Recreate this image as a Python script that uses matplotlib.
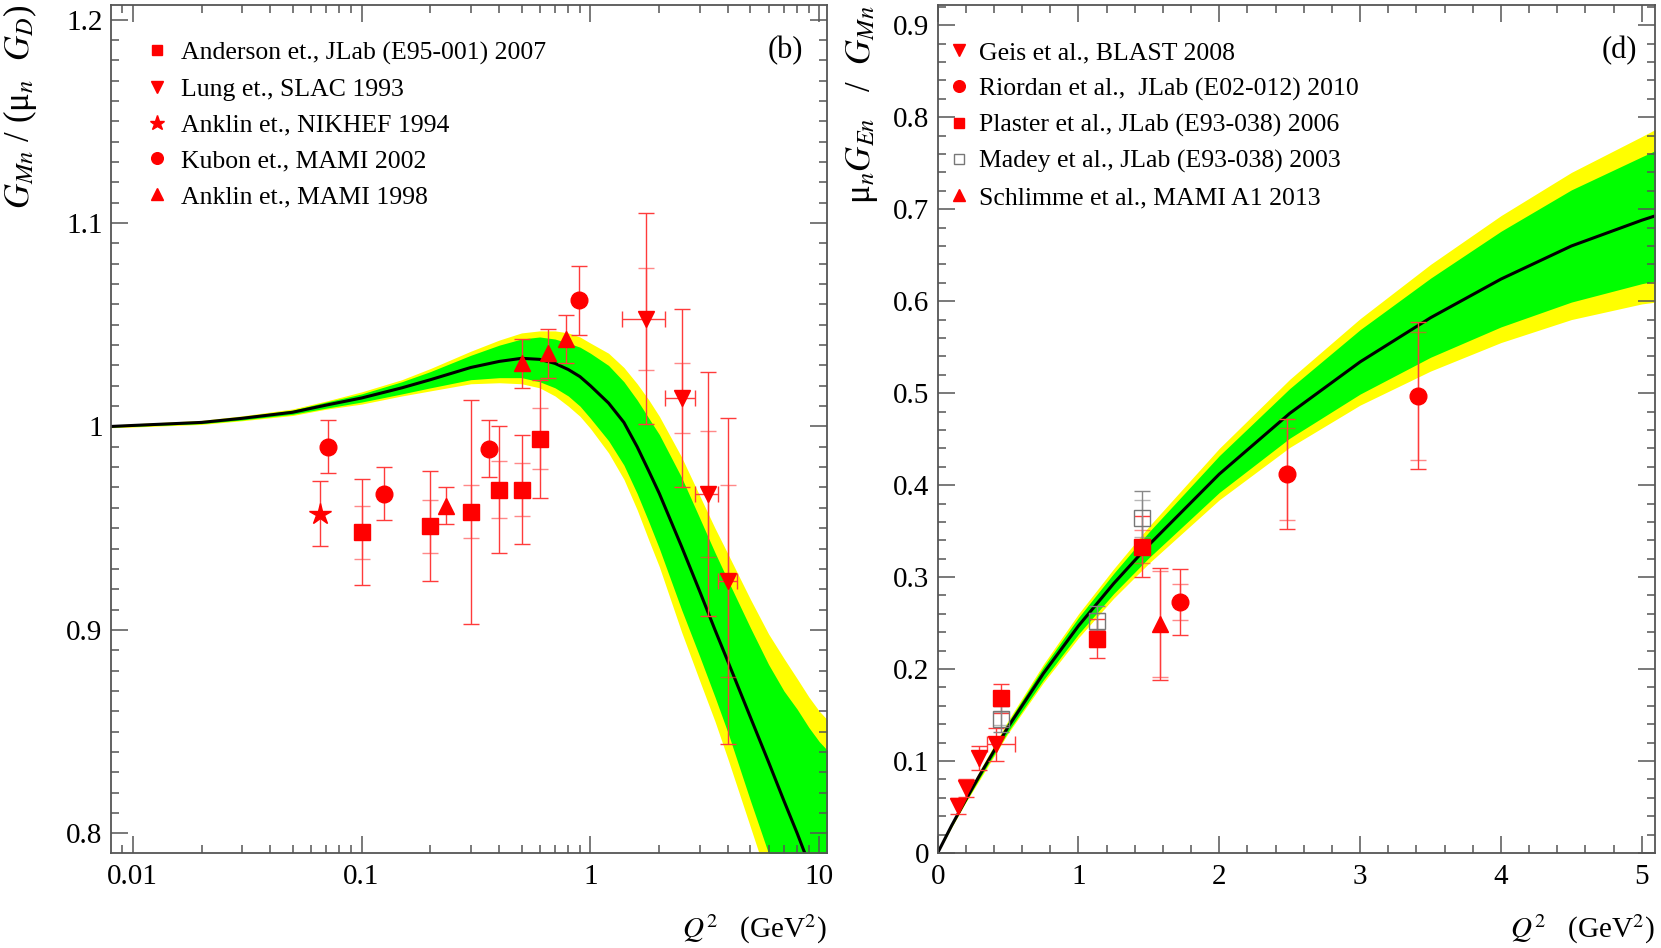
import numpy as np
import matplotlib
matplotlib.use("Agg")
import matplotlib.pyplot as plt
from matplotlib.ticker import FixedLocator, MultipleLocator, LogLocator, FuncFormatter

plt.rcParams['font.family'] = ['Liberation Serif', 'DejaVu Serif']
plt.rcParams['mathtext.fontset'] = 'stix'

# ---- panel (b): G_Mn / (mu_n G_D) ----
gm_q = [0.008, 0.01, 0.02, 0.03, 0.05, 0.07, 0.1, 0.15, 0.2, 0.3, 0.4, 0.5, 0.6, 0.7, 0.8, 0.9,
        1.0, 1.2, 1.4, 1.6, 1.8, 2.0, 2.5, 3.0, 3.5, 4.0, 5.0, 6.0, 7.0, 8.0, 9.0, 10.0, 11.0]
gm_fit = [1.000, 1.0005, 1.002, 1.004, 1.007, 1.0105, 1.014, 1.019, 1.023, 1.029, 1.032, 1.0335, 1.033, 1.031, 1.028, 1.0245,
          1.020, 1.0115, 1.002, 0.990, 0.978, 0.967, 0.941, 0.919, 0.900, 0.884, 0.857, 0.835, 0.816, 0.800, 0.785, 0.772, 0.760]
gm_green_lo = [0.9997, 1.0001, 1.0014, 1.0032, 1.006, 1.009, 1.012, 1.016, 1.019, 1.023, 1.024, 1.024, 1.022, 1.019, 1.015, 1.010,
               1.004, 0.993, 0.981, 0.967, 0.953, 0.940, 0.910, 0.887, 0.867, 0.849, 0.816, 0.790, 0.770, 0.753, 0.737, 0.724, 0.711]
gm_green_hi = [1.0003, 1.0009, 1.0026, 1.0048, 1.008, 1.012, 1.016, 1.022, 1.027, 1.035, 1.040, 1.043, 1.044, 1.043, 1.041, 1.039,
               1.036, 1.030, 1.022, 1.013, 1.004, 0.996, 0.975, 0.955, 0.938, 0.924, 0.901, 0.883, 0.870, 0.861, 0.852, 0.845, 0.840]
gm_yel_lo = [0.9994, 0.9997, 1.0010, 1.0028, 1.0054, 1.0085, 1.011, 1.015, 1.0175, 1.021, 1.0215, 1.021, 1.019, 1.015, 1.010, 1.005,
             0.999, 0.987, 0.974, 0.959, 0.944, 0.931, 0.899, 0.875, 0.855, 0.836, 0.803, 0.776, 0.755, 0.737, 0.720, 0.705, 0.691]
gm_yel_hi = [1.0006, 1.0013, 1.0030, 1.0052, 1.0086, 1.0125, 1.017, 1.023, 1.0285, 1.037, 1.0425, 1.046, 1.047, 1.047, 1.046, 1.044,
             1.041, 1.036, 1.029, 1.021, 1.013, 1.005, 0.985, 0.966, 0.950, 0.937, 0.915, 0.898, 0.886, 0.876, 0.867, 0.860, 0.855]

anderson_q = [0.1, 0.2, 0.3, 0.4, 0.5, 0.6]
anderson_v = [0.948, 0.951, 0.958, 0.969, 0.969, 0.994]
anderson_stat = [0.013, 0.013, 0.013, 0.014, 0.013, 0.015]
anderson_tot = [0.026, 0.027, 0.055, 0.031, 0.027, 0.029]

lung_q = [1.75, 2.5, 3.25, 4.0]
lung_v = [1.053, 1.014, 0.967, 0.924]
lung_stat = [0.025, 0.017, 0.031, 0.047]
lung_tot = [0.052, 0.044, 0.060, 0.080]
lung_qerr = [0.375, 0.375, 0.375, 0.375]

nikhef_q = [0.066]
nikhef_v = [0.957]
nikhef_err = [0.016]

kubon_q = [0.071, 0.125, 0.359, 0.894]
kubon_v = [0.990, 0.967, 0.989, 1.062]
kubon_err = [0.013, 0.013, 0.014, 0.017]

anklin_q = [0.235, 0.503, 0.652, 0.784]
anklin_v = [0.961, 1.031, 1.036, 1.043]
anklin_err = [0.009, 0.012, 0.012, 0.012]

# ---- panel (d): mu_n G_En / G_Mn ----
en_q = [0, 0.1, 0.2, 0.3, 0.5, 0.75, 1.0, 1.25, 1.5, 2.0, 2.5, 3.0, 3.5, 4.0, 4.5, 5.0, 5.1]
en_fit = [0, 0.030, 0.058, 0.085, 0.137, 0.195, 0.247, 0.293, 0.335, 0.412, 0.478, 0.534, 0.582, 0.624, 0.660, 0.688, 0.693]
en_green_lo = [0, 0.029, 0.056, 0.082, 0.132, 0.188, 0.238, 0.282, 0.321, 0.392, 0.451, 0.499, 0.539, 0.572, 0.599, 0.619, 0.622]
en_green_hi = [0, 0.031, 0.060, 0.088, 0.142, 0.202, 0.256, 0.304, 0.349, 0.432, 0.505, 0.569, 0.625, 0.676, 0.721, 0.757, 0.764]
en_yel_lo = [0, 0.028, 0.055, 0.080, 0.130, 0.185, 0.234, 0.277, 0.315, 0.384, 0.441, 0.487, 0.524, 0.555, 0.580, 0.597, 0.599]
en_yel_hi = [0, 0.032, 0.061, 0.090, 0.144, 0.205, 0.260, 0.309, 0.355, 0.440, 0.515, 0.581, 0.640, 0.693, 0.740, 0.779, 0.787]

geis_q = [0.142, 0.203, 0.291, 0.415]
geis_v = [0.051, 0.071, 0.103, 0.118]
geis_err = [0.009, 0.010, 0.013, 0.018]
geis_qerr_lo = [0, 0, 0, 0.067]
geis_qerr_hi = [0, 0, 0, 0.134]

riordan_q = [1.72, 2.48, 3.41]
riordan_v = [0.273, 0.412, 0.497]
riordan_stat = [0.0195, 0.050, 0.070]
riordan_tot = [0.036, 0.060, 0.080]

plaster_q = [0.447, 1.132, 1.45]
plaster_v = [0.168, 0.233, 0.333]
plaster_stat = [0.008, 0.009, 0.018]
plaster_tot = [0.016, 0.021, 0.033]

madey_q = [0.447, 1.132, 1.45]
madey_v = [0.146, 0.252, 0.364]
madey_stat = [0.007, 0.009, 0.020]
madey_tot = [0.014, 0.017, 0.030]

schlimme_q = [1.58]
schlimme_v = [0.249]
schlimme_stat = [0.058]
schlimme_tot = [0.061]

RED = '#ff0000'
ERR = '#ff3b3b'
YEL = '#ffff00'
GRN = '#00ff00'
TICKS = 21
LEGFS = 18.5
YLAB = 25

fig = plt.figure(figsize=(16.61, 9.48), dpi=100)
ax1 = fig.add_axes([0.0668, 0.1002, 0.4311, 0.8945])
ax2 = fig.add_axes([0.5645, 0.1002, 0.4319, 0.8945])


def style(ax):
    for s in ax.spines.values():
        s.set_color('#555555')
        s.set_linewidth(1.3)
    ax.tick_params(which='both', direction='in', top=True, right=True, colors='#555555',
                   labelcolor='black', labelsize=TICKS, width=1.1)
    ax.tick_params(axis='y', which='both', pad=6)
    ax.tick_params(axis='x', which='both', pad=8)
    ax.tick_params(which='major', length=12)
    ax.tick_params(which='minor', length=6)


def errs(ax, q, v, tot, stat=None, color=ERR, qerr=None):
    ax.errorbar(q, v, yerr=tot, xerr=qerr, fmt='none', ecolor=color, elinewidth=1.0,
                capsize=6, capthick=1.0, zorder=3)
    if stat is not None:
        ax.errorbar(q, v, yerr=stat, fmt='none', ecolor=color, elinewidth=1.0,
                    capsize=6, capthick=1.0, alpha=0.6, zorder=3)


# panel (b)
ax1.fill_between(gm_q, gm_yel_lo, gm_yel_hi, color=YEL, lw=0, zorder=1)
ax1.fill_between(gm_q, gm_green_lo, gm_green_hi, color=GRN, lw=0, zorder=1.5)
ax1.plot(gm_q, gm_fit, color='black', lw=2.2, zorder=2)

errs(ax1, anderson_q, anderson_v, anderson_tot, anderson_stat)
errs(ax1, lung_q, lung_v, lung_tot, lung_stat, qerr=lung_qerr)
errs(ax1, nikhef_q, nikhef_v, nikhef_err)
errs(ax1, kubon_q, kubon_v, kubon_err)
errs(ax1, anklin_q, anklin_v, anklin_err)

ax1.plot(anderson_q, anderson_v, 's', color=RED, ms=11, ls='none', zorder=4,
         label='Anderson et., JLab (E95-001) 2007')
ax1.plot(lung_q, lung_v, 'v', color=RED, ms=12, ls='none', zorder=4, label='Lung et., SLAC 1993')
ax1.plot(nikhef_q, nikhef_v, '*', color=RED, ms=16, ls='none', zorder=4, label='Anklin et., NIKHEF 1994')
ax1.plot(kubon_q, kubon_v, 'o', color=RED, ms=12, ls='none', zorder=4, label='Kubon et., MAMI 2002')
ax1.plot(anklin_q, anklin_v, '^', color=RED, ms=12, ls='none', zorder=4, label='Anklin et., MAMI 1998')

ax1.set_xscale('log')
ax1.set_xlim(0.00804, 10.8)
ax1.set_ylim(0.7903, 1.2072)
ax1.xaxis.set_major_locator(FixedLocator([0.01, 0.1, 1, 10]))
ax1.xaxis.set_minor_locator(LogLocator(base=10, subs=np.arange(2, 10)))
ax1.xaxis.set_major_formatter(FuncFormatter(lambda v, p: '%g' % v))
ax1.yaxis.set_major_locator(MultipleLocator(0.1))
ax1.yaxis.set_minor_locator(MultipleLocator(0.01))
ax1.yaxis.set_major_formatter(FuncFormatter(lambda v, p: '%g' % round(v, 3)))
style(ax1)

ax1.set_xlabel(r'$Q^2$   (GeV$^2$)', fontsize=TICKS, loc='right', labelpad=16)
ax1.set_ylabel(r'$G_{Mn}$ / (μ$_n$  $G_D$)', fontsize=YLAB, loc='top')
ax1.yaxis.set_label_coords(-0.100, 1.0)
ax1.text(0.942, 0.946, '(b)', transform=ax1.transAxes, fontsize=22, ha='center', va='center')
ax1.legend(loc='upper left', bbox_to_anchor=(0.0458, 0.957), frameon=False, fontsize=LEGFS,
           markerscale=0.7, handlelength=1.0, handletextpad=0.45, labelspacing=0.5,
           borderpad=0, borderaxespad=0, numpoints=1)

# panel (d)
ax2.fill_between(en_q, en_yel_lo, en_yel_hi, color=YEL, lw=0, zorder=1)
ax2.fill_between(en_q, en_green_lo, en_green_hi, color=GRN, lw=0, zorder=1.5)
ax2.plot(en_q, en_fit, color='black', lw=2.2, zorder=2)

errs(ax2, geis_q, geis_v, geis_err, qerr=[geis_qerr_lo, geis_qerr_hi])
errs(ax2, riordan_q, riordan_v, riordan_tot, riordan_stat)
errs(ax2, plaster_q, plaster_v, plaster_tot, plaster_stat)
errs(ax2, madey_q, madey_v, madey_tot, madey_stat, color='#888888')
errs(ax2, schlimme_q, schlimme_v, schlimme_tot, schlimme_stat)

ax2.plot(geis_q, geis_v, 'v', color=RED, ms=12, ls='none', zorder=4, label='Geis et al., BLAST 2008')
ax2.plot(riordan_q, riordan_v, 'o', color=RED, ms=12, ls='none', zorder=4,
         label='Riordan et al.,  JLab (E02-012) 2010')
ax2.plot(plaster_q, plaster_v, 's', color=RED, ms=11, ls='none', zorder=4,
         label='Plaster et al., JLab (E93-038) 2006')
ax2.plot(madey_q, madey_v, 's', mfc='none', mec='#777777', mew=1.0, ms=11, ls='none', zorder=4,
         label='Madey et al., JLab (E93-038) 2003')
ax2.plot(schlimme_q, schlimme_v, '^', color=RED, ms=12, ls='none', zorder=4, label='Schlimme et al., MAMI A1 2013')

ax2.set_xlim(0, 5.094)
ax2.set_ylim(0, 0.922)
ax2.xaxis.set_major_locator(MultipleLocator(1))
ax2.xaxis.set_minor_locator(MultipleLocator(0.2))
ax2.yaxis.set_major_locator(MultipleLocator(0.1))
ax2.yaxis.set_minor_locator(MultipleLocator(0.02))
ax2.yaxis.set_major_formatter(FuncFormatter(lambda v, p: '%g' % round(v, 3)))
style(ax2)

ax2.set_xlabel(r'$Q^2$   (GeV$^2$)', fontsize=TICKS, loc='right', labelpad=16)
ax2.set_ylabel(r'μ$_n$$G_{En}$   /  $G_{Mn}$', fontsize=YLAB, loc='top')
ax2.yaxis.set_label_coords(-0.080, 1.0)
ax2.text(0.95, 0.946, '(d)', transform=ax2.transAxes, fontsize=22, ha='center', va='center')
ax2.legend(loc='upper left', bbox_to_anchor=(0.0113, 0.957), frameon=False, fontsize=LEGFS,
           markerscale=0.7, handlelength=1.0, handletextpad=0.3, labelspacing=0.5,
           borderpad=0, borderaxespad=0, numpoints=1)

fig.savefig('out.png', dpi=100)
